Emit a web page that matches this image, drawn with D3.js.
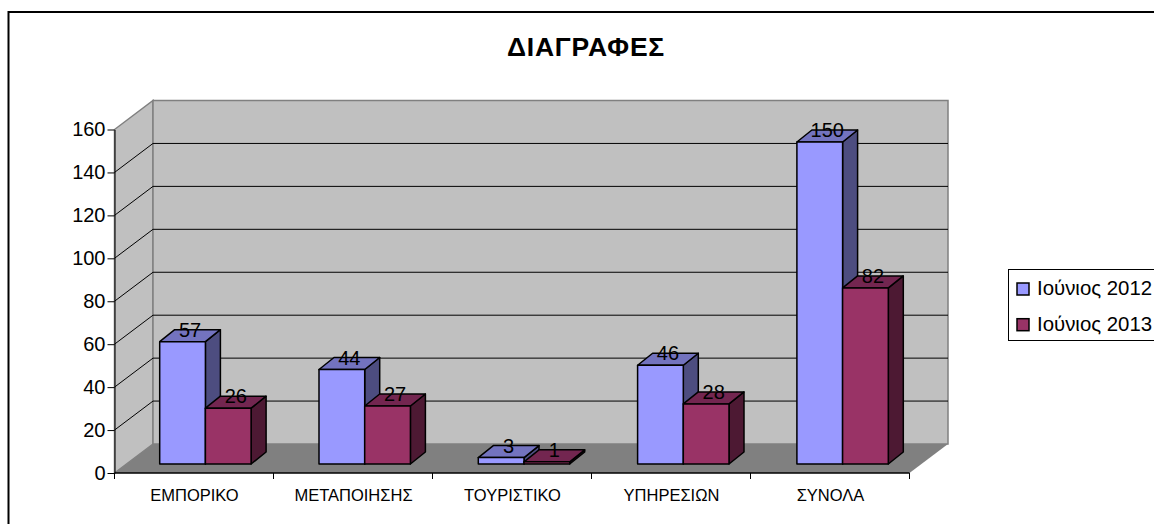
<!DOCTYPE html>
<html>
<head>
<meta charset="utf-8">
<script src="https://cdnjs.cloudflare.com/ajax/libs/d3/7.8.5/d3.min.js"></script>
<style>
  html, body { margin: 0; padding: 0; background: #fff; overflow: hidden; }
  svg { display: block; }
  text { font-family: "Liberation Sans", Arial, sans-serif; fill: #000; }
</style>
</head>
<body>
<div id="chart"></div>
<script>
const categories = ['ΕΜΠΟΡΙΚΟ', 'ΜΕΤΑΠΟΙΗΣΗΣ', 'ΤΟΥΡΙΣΤΙΚΟ', 'ΥΠΗΡΕΣΙΩΝ', 'ΣΥΝΟΛΑ'];
const seriesNames = ['Ιούνιος 2012', 'Ιούνιος 2013'];
const values2012 = [57, 44, 3, 46, 150];
const values2013 = [26, 27, 1, 28, 82];
const yTicks = [0, 20, 40, 60, 80, 100, 120, 140, 160];

const width = 1154, height = 524;

const colors = [
  {front: '#9999ff', top: '#7373bf', side: '#4d4d80'},
  {front: '#993366', top: '#732650', side: '#4d1933'}
];

const svg = d3.select('#chart').append('svg')
  .attr('width', width)
  .attr('height', height);

// Outer chart frame, cut off by the right and bottom of the picture
svg.append('rect')
  .attr('x', 8.5).attr('y', 12)
  .attr('width', width).attr('height', height)
  .attr('fill', '#fff').attr('stroke', '#000').attr('stroke-width', 2);

svg.append('text')
  .attr('x', 586).attr('y', 56)
  .attr('text-anchor', 'middle')
  .attr('font-size', 26.5).attr('font-weight', 'bold')
  .attr('letter-spacing', 0.8)
  .text('ΔΙΑΓΡΑΦΕΣ');

const x = d3.scaleBand().domain(categories).range([114.5, 909.5]);
const y = d3.scaleLinear().domain([0, 160]).range([473, 129.5]);
// Bars step a little wider than the axis ticks do
const xBars = d3.scaleBand().domain(categories).range([159.7, 159.7 + 5 * 159.3]);

// Depth of the box
const depthX = 38.5, depthY = -29;
const barBaseShift = -9;
const barDepthX = 15, barDepthY = -12;
const barWidth = 45.7;

const poly = pts => pts.map(p => p.join(',')).join(' ');

// Side wall
svg.append('polygon')
  .attr('points', poly([[x.range()[0], y(0)], [x.range()[0] + depthX, y(0) + depthY],
    [x.range()[0] + depthX, y(160) + depthY], [x.range()[0], y(160)]]))
  .attr('fill', '#c0c0c0').attr('stroke', '#808080').attr('stroke-width', 1.5);

// Back wall
svg.append('polygon')
  .attr('points', poly([[x.range()[0] + depthX, y(0) + depthY], [x.range()[1] + depthX, y(0) + depthY],
    [x.range()[1] + depthX, y(160) + depthY], [x.range()[0] + depthX, y(160) + depthY]]))
  .attr('fill', '#c0c0c0').attr('stroke', '#808080').attr('stroke-width', 1.5);

// Floor
svg.append('polygon')
  .attr('points', poly([[x.range()[0], y(0)], [x.range()[1], y(0)],
    [x.range()[1] + depthX, y(0) + depthY], [x.range()[0] + depthX, y(0) + depthY]]))
  .attr('fill', '#808080');

// Gridlines run along the side wall and across the back wall
const grid = svg.append('g').attr('fill', 'none').attr('stroke', '#000').attr('stroke-width', 1);
yTicks.filter(t => t > 0 && t < 160).forEach(t => {
  grid.append('path').attr('d', d3.line()([
    [x.range()[0], y(t)],
    [x.range()[0] + depthX, y(t) + depthY],
    [x.range()[1] + depthX, y(t) + depthY]
  ]));
});

// Value axis
const yAxis = svg.append('g')
  .attr('transform', `translate(${x.range()[0]},0)`)
  .call(d3.axisLeft(y).tickValues(yTicks).tickSize(7).tickPadding(2).tickSizeOuter(0));
yAxis.selectAll('text').attr('font-size', 20).attr('font-family', '"Liberation Sans", Arial, sans-serif');
yAxis.selectAll('line, path').attr('stroke', '#000').attr('stroke-width', 1);

// Category axis
const xAxis = svg.append('g').attr('transform', `translate(0,${y(0)})`);
xAxis.append('path')
  .attr('d', d3.line()([[x.range()[0], 0], [x.range()[1], 0]]))
  .attr('stroke', '#000').attr('stroke-width', 1.5);
d3.range(categories.length + 1).forEach(i => {
  const tx = x.range()[0] + i * x.step();
  xAxis.append('line').attr('x1', tx).attr('x2', tx).attr('y1', 0).attr('y2', 6)
    .attr('stroke', '#000');
});
xAxis.selectAll('text.cat').data(categories).join('text')
  .attr('class', 'cat')
  .attr('x', d => x(d) + x.bandwidth() / 2 + 0.5)
  .attr('y', 28)
  .attr('text-anchor', 'middle')
  .attr('font-size', 16.5)
  .text(d => d);

// Bars, left series then right series in each category
const barsData = categories.flatMap((c, i) => [
  {cat: c, s: 0, v: values2012[i]},
  {cat: c, s: 1, v: values2013[i]}
]);
const barLayer = svg.append('g').attr('stroke', '#000').attr('stroke-width', 1.5).attr('stroke-linejoin', 'round');
const labelLayer = svg.append('g');
const base = y(0) + barBaseShift;

barsData.forEach(d => {
  const x0 = xBars(d.cat) + d.s * barWidth;
  const x1 = x0 + barWidth;
  const yt = y(d.v) + barBaseShift;
  const c = colors[d.s];
  barLayer.append('polygon')
    .attr('points', poly([[x1, base], [x1 + barDepthX, base + barDepthY], [x1 + barDepthX, yt + barDepthY], [x1, yt]]))
    .attr('fill', c.side);
  barLayer.append('polygon')
    .attr('points', poly([[x0, yt], [x1, yt], [x1 + barDepthX, yt + barDepthY], [x0 + barDepthX, yt + barDepthY]]))
    .attr('fill', c.top);
  barLayer.append('rect')
    .attr('x', x0).attr('y', yt).attr('width', barWidth).attr('height', base - yt)
    .attr('fill', c.front);
  labelLayer.append('text')
    .attr('x', x0 + barWidth / 2 + barDepthX / 2)
    .attr('y', yt - 5)
    .attr('text-anchor', 'middle')
    .attr('font-size', 20)
    .text(d.v);
});

// Legend
const legend = svg.append('g');
legend.append('rect')
  .attr('x', 1008.5).attr('y', 269.5).attr('width', width).attr('height', 71)
  .attr('fill', '#fff').attr('stroke', '#000').attr('stroke-width', 1);
seriesNames.forEach((name, i) => {
  const ly = 289 + i * 35.7;
  legend.append('rect')
    .attr('x', 1017).attr('y', ly - 6).attr('width', 12).attr('height', 12)
    .attr('fill', colors[i].front).attr('stroke', '#000').attr('stroke-width', 1.5);
  legend.append('text')
    .attr('x', 1037).attr('y', ly + 6)
    .attr('font-size', 20.4)
    .text(name);
});
</script>
</body>
</html>
